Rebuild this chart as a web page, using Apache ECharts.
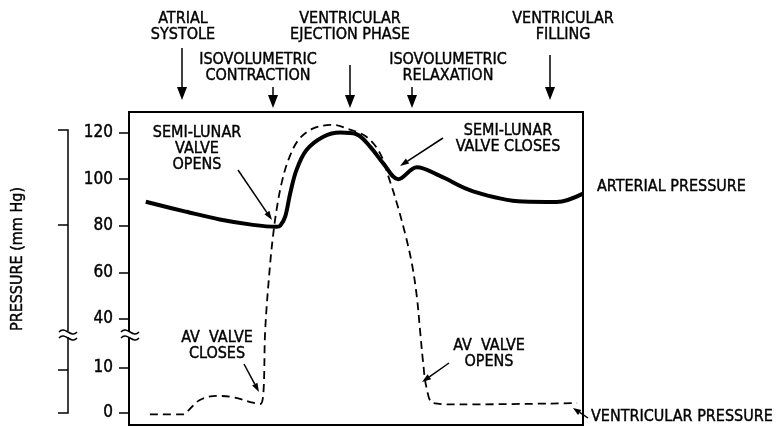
<!DOCTYPE html>
<html>
<head>
<meta charset="utf-8">
<script src="https://cdn.jsdelivr.net/npm/echarts@6/dist/echarts.min.js"></script>
<style>
  html, body { margin: 0; padding: 0; background: #fff; }
  #main { width: 783px; height: 427px; }
</style>
</head>
<body>
<div id="main"></div>
<script>
// time in % of one cardiac cycle, pressure in mm Hg
var timeArterial = [3.7, 12.7, 20.0, 27.3, 32.5, 33.3, 34.4, 35.5, 36.9, 39.1, 42.8, 46.5, 50.1, 53.1, 56.0, 59.3, 63.4, 68.5, 75.8, 86.8, 94.2, 100];
var arterialMmHg = [90.3, 86.0, 82.7, 80.4, 79.6, 80.0, 83.9, 93.9, 104, 112.5, 118.2, 120, 119.3, 114, 106.8, 100, 105.1, 101.4, 94.8, 90.4, 90.2, 93.8];

var timeVentricular = [4.6, 11.9, 12.8, 15.6, 19.4, 22.9, 27.3, 28.9, 29.6, 30.0, 31.1, 31.8, 32.5, 33.6, 35.1, 37.3, 40.6, 45.0, 47.9, 52.3, 55.3, 57.5, 59.0, 60.8, 62.3, 63.4, 64.1, 64.8, 65.5, 67.0, 72.9, 98.7];
var ventricularMmHg = [-0.3, -0.3, 0.3, 2.9, 3.8, 3.5, 2.3, 2.0, 4.4, 33.3, 64, 76.9, 86.8, 98.2, 108.2, 116.8, 121.8, 123.3, 121.8, 118.2, 111.1, 99, 89.7, 76.8, 63.9, 49.6, 33.3, 12.9, 5.8, 2.2, 1.9, 2.2];

var tickValues = [0, 10, 40, 60, 80, 100, 120];

// broken scale: 0-10 stretched, 40-120 compressed, gap squeezed
function toAxis(v) {
    if (v <= 10) return v * 4.5;
    if (v >= 40) return 94 + (v - 40) * 2.33;
    return 45 + (v - 10) * 49 / 30;
}

function pairs(xs, ys) {
    return xs.map(function (x, i) { return [x, toAxis(ys[i])]; });
}

var tickPos = tickValues.map(toAxis);
var fontFamily = '"DejaVu Sans Condensed", "Liberation Sans Narrow", sans-serif';
var font = '16px ' + fontFamily;

function label(text, x, y, align) {
    return {
        type: 'text', x: x, y: y, silent: true,
        style: {
            text: text, font: font, fill: '#000', stroke: '#000', lineWidth: 0.4,
            lineHeight: 16, textAlign: align || 'center', textVerticalAlign: 'middle'
        }
    };
}

function arrow(x1, y1, x2, y2, hl, hw, lw) {
    var dx = x2 - x1, dy = y2 - y1, len = Math.sqrt(dx * dx + dy * dy);
    var ux = dx / len, uy = dy / len;
    var bx = x2 - ux * hl, by = y2 - uy * hl;
    var px = -uy * hw / 2, py = ux * hw / 2;
    return [
        { type: 'line', silent: true, shape: { x1: x1, y1: y1, x2: bx, y2: by },
          style: { stroke: '#000', lineWidth: lw } },
        { type: 'polygon', silent: true,
          shape: { points: [[x2, y2], [bx + px, by + py], [bx - px, by - py]] },
          style: { fill: '#000' } }
    ];
}

function squiggle(cx, cy) {
    return [
        { type: 'rect', silent: true, shape: { x: cx - 4, y: cy - 2, width: 8, height: 6 }, style: { fill: '#fff' } },
        { type: 'bezierCurve', silent: true,
          shape: { x1: cx - 9, y1: cy - 1, cpx1: cx - 3, cpy1: cy - 8, cpx2: cx + 3, cpy2: cy + 6, x2: cx + 9, y2: cy - 1 },
          style: { stroke: '#000', lineWidth: 1.5, fill: null } },
        { type: 'bezierCurve', silent: true,
          shape: { x1: cx - 9, y1: cy + 5, cpx1: cx - 3, cpy1: cy - 2, cpx2: cx + 3, cpy2: cy + 12, x2: cx + 9, y2: cy + 5 },
          style: { stroke: '#000', lineWidth: 1.5, fill: null } }
    ];
}

var graphics = [];
// phase labels along the top
graphics.push(label('ATRIAL\nSYSTOLE', 183, 27));
graphics.push(label('VENTRICULAR\nEJECTION PHASE', 350, 27));
graphics.push(label('VENTRICULAR\nFILLING', 563, 27));
graphics.push(label('ISOVOLUMETRIC\nCONTRACTION', 258, 68));
graphics.push(label('ISOVOLUMETRIC\nRELAXATION', 448, 68));
graphics = graphics.concat(arrow(182, 48, 182, 100, 13, 10, 1.5));
graphics = graphics.concat(arrow(273, 87, 273, 108, 13, 10, 1.5));
graphics = graphics.concat(arrow(350, 65, 350, 108, 13, 10, 1.5));
graphics = graphics.concat(arrow(412, 87, 412, 108, 13, 10, 1.5));
graphics = graphics.concat(arrow(550, 55, 550, 100, 13, 10, 1.5));

// notes inside the plot
graphics.push(label('SEMI-LUNAR\nVALVE\nOPENS', 197, 149));
graphics = graphics.concat(arrow(238, 170, 272, 220, 9, 6, 1.5));
graphics.push(label('SEMI-LUNAR\nVALVE CLOSES', 508, 139));
graphics = graphics.concat(arrow(443, 138, 400, 166, 9, 6, 1.5));
graphics.push(label('AV  VALVE\nCLOSES', 217, 346));
graphics = graphics.concat(arrow(244, 364, 259, 392, 9, 6, 1.5));
graphics.push(label('AV  VALVE\nOPENS', 489, 354));
graphics = graphics.concat(arrow(449, 363, 422, 382, 9, 6, 1.5));

// series names on the right
graphics.push(label('ARTERIAL PRESSURE', 597, 187, 'left'));
graphics.push(label('VENTRICULAR PRESSURE', 591, 417, 'left'));
graphics = graphics.concat(arrow(588, 418, 573, 408, 8, 6, 1.5));

// pressure bracket on the far left
graphics.push({
    type: 'text', x: 18, y: 259, rotation: Math.PI / 2, silent: true,
    style: { text: 'PRESSURE (mm Hg)', font: font, fill: '#000', stroke: '#000', lineWidth: 0.4,
             textAlign: 'center', textVerticalAlign: 'middle' }
});
graphics.push({ type: 'polyline', silent: true,
    shape: { points: [[58, 130], [68, 130], [68, 413], [58, 413]] },
    style: { stroke: '#000', lineWidth: 1.5, fill: null } });
[225, 370].forEach(function (y) {
    graphics.push({ type: 'line', silent: true, shape: { x1: 58, y1: y, x2: 68, y2: y },
        style: { stroke: '#000', lineWidth: 1.5 } });
});
graphics = graphics.concat(squiggle(68, 333));
graphics = graphics.concat(squiggle(130, 333));

var option = {
    backgroundColor: '#fff',
    animation: false,
    grid: {
        left: 129, right: 200, top: 112, bottom: 2,
        show: true, borderColor: '#000', borderWidth: 2, backgroundColor: 'transparent'
    },
    xAxis: {
        type: 'value', min: 0, max: 100,
        axisLine: { show: false }, axisTick: { show: false },
        axisLabel: { show: false }, splitLine: { show: false }
    },
    yAxis: {
        type: 'value', min: -12, max: 301,
        axisLine: { show: false },
        axisTick: { show: true, customValues: tickPos, length: 10, inside: false,
                    lineStyle: { color: '#000', width: 1.5 } },
        axisLabel: {
            customValues: tickPos, margin: 16, color: '#000',
            fontFamily: fontFamily, fontSize: 17,
            textBorderColor: '#000', textBorderWidth: 0.4,
            formatter: function (val) {
                for (var i = 0; i < tickPos.length; i++) {
                    if (Math.abs(tickPos[i] - val) < 0.5) return String(tickValues[i]);
                }
                return '';
            }
        },
        splitLine: { show: false }
    },
    series: [
        {
            name: 'Arterial pressure', type: 'line',
            data: pairs(timeArterial, arterialMmHg),
            showSymbol: false, smooth: 0.35,
            lineStyle: { color: '#000', width: 4 }, z: 3
        },
        {
            name: 'Ventricular pressure', type: 'line',
            data: pairs(timeVentricular, ventricularMmHg),
            showSymbol: false, smooth: 0.35,
            lineStyle: { color: '#000', width: 1.8, type: [8, 5] }, z: 2
        }
    ],
    graphic: { elements: graphics }
};

var myChart = echarts.init(document.getElementById('main'));
myChart.setOption(option);
</script>
</body>
</html>
